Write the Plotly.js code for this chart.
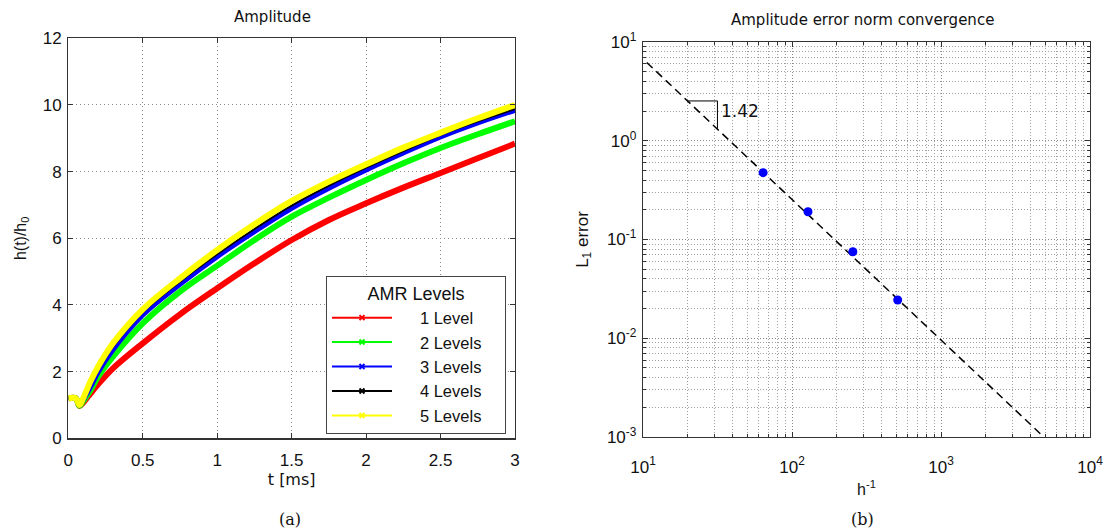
<!DOCTYPE html>
<html><head><meta charset="utf-8">
<script src="https://cdn.plot.ly/plotly-3.0.1.min.js"></script>
<style>html,body{margin:0;padding:0;background:#fff}#chart{width:1107px;height:531px}</style>
</head><body><div id="chart"></div>
<script>
// ---- data: panel (a) amplitude ----
const tMs = [0, 0.05, 0.075, 0.1, 0.15, 0.2, 0.3, 0.5, 0.75, 1, 1.25, 1.5, 1.75, 2, 2.25, 2.5, 2.75, 3];
const level1 = [1.2, 1.2, 0.97, 1.07, 1.35, 1.62, 2.1, 2.85, 3.72, 4.5, 5.25, 5.95, 6.55, 7.05, 7.52, 7.96, 8.4, 8.84];
const level2 = [1.2, 1.2, 0.98, 1.12, 1.45, 1.85, 2.45, 3.45, 4.4, 5.18, 5.95, 6.65, 7.22, 7.75, 8.25, 8.71, 9.12, 9.51];
const level3 = [1.2, 1.2, 0.99, 1.15, 1.55, 1.98, 2.66, 3.7, 4.62, 5.45, 6.2, 6.9, 7.5, 8.05, 8.56, 9.04, 9.46, 9.84];
const level4 = [1.2, 1.2, 0.99, 1.17, 1.6, 2.04, 2.74, 3.78, 4.7, 5.52, 6.28, 6.98, 7.58, 8.12, 8.62, 9.1, 9.51, 9.88];
const level5 = [1.2, 1.2, 1.0, 1.2, 1.72, 2.15, 2.85, 3.87, 4.8, 5.65, 6.42, 7.12, 7.7, 8.22, 8.72, 9.17, 9.6, 10.0];
const seriesNames = ['1 Level', '2 Levels', '3 Levels', '4 Levels', '5 Levels'];
const seriesColors = ['#ff0000', '#00ff00', '#0000ff', '#000000', '#ffff00'];
const seriesWidths = [6, 6, 5, 2, 6];

// ---- data: panel (b) convergence ----
const hInv = [64, 128, 256, 512];
const l1Err = [0.475, 0.191, 0.0752, 0.0244];
const fitH = [10.6, 4900];
const fitErr = [6.2, 0.001];
const triH = [20, 31.6, 31.6];
const triErr = [2.53, 2.53, 1.32];
const slopeLabel = '1.42';

const xTicksA = [0, 0.5, 1, 1.5, 2, 2.5, 3];
const yTicksA = [0, 2, 4, 6, 8, 10, 12];
const xTicksB = [10, 100, 1000, 10000];
const xTickTextB = ['10<sup>1</sup>', '10<sup>2</sup>', '10<sup>3</sup>', '10<sup>4</sup>'];
const yTicksB = [10, 1, 0.1, 0.01, 0.001];
const yTickTextB = ['10<sup>1</sup>', '10<sup>0</sup>', '10<sup>-1</sup>', '10<sup>-2</sup>', '10<sup>-3</sup>'];

const allLevels = [level1, level2, level3, level4, level5];
const traces = [];
allLevels.forEach((ys, i) => {
  traces.push({x: tMs, y: ys, type: 'scatter', mode: 'lines', xaxis: 'x', yaxis: 'y',
    line: {color: seriesColors[i], width: seriesWidths[i], shape: 'spline', smoothing: 1},
    showlegend: false, hoverinfo: 'skip'});
});
const padL = '\u00a0'.repeat(5);
const padR = '\u00a0'.repeat(4);
allLevels.forEach((ys, i) => {
  traces.push({x: [null], y: [null], type: 'scatter', mode: 'lines+markers', xaxis: 'x', yaxis: 'y',
    name: padL + seriesNames[i] + padR,
    line: {color: seriesColors[i], width: 2},
    marker: {symbol: 'x-thin', size: 5, color: seriesColors[i], line: {color: seriesColors[i], width: 2}}});
});
traces.push({x: fitH, y: fitErr, type: 'scatter', mode: 'lines', xaxis: 'x2', yaxis: 'y2',
  line: {color: '#000', width: 1.5, dash: '8px,5px'}, showlegend: false});
traces.push({x: triH, y: triErr, type: 'scatter', mode: 'lines', xaxis: 'x2', yaxis: 'y2',
  line: {color: '#000', width: 1}, showlegend: false});
traces.push({x: hInv, y: l1Err, type: 'scatter', mode: 'markers', xaxis: 'x2', yaxis: 'y2',
  marker: {color: '#0000ff', size: 9}, showlegend: false});

const W = 1107, H = 531;
const axLine = '#333333';
const gridC = '#8a8a8a';
const tickFont = {family: 'Liberation Sans, Arial, sans-serif', size: 17, color: '#111'};
const titleFont = {family: 'DejaVu Sans, sans-serif', size: 15, color: '#111'};

const common = {showline: true, mirror: 'ticks', linecolor: axLine, linewidth: 1.2,
  ticks: 'inside', ticklen: 5, tickcolor: axLine, showgrid: true, gridcolor: gridC,
  griddash: '1px,3px', gridwidth: 1, zeroline: false, tickfont: tickFont, automargin: false};
const minorB = {ticks: 'inside', ticklen: 3, tickcolor: axLine, showgrid: true, gridcolor: '#a0a0a0',
  griddash: '1px,2px', gridwidth: 1, dtick: 'D1'};

const layout = {
  width: W, height: H, margin: {l: 0, r: 0, t: 0, b: 0},
  paper_bgcolor: '#fff', plot_bgcolor: '#fff', showlegend: true,
  xaxis: Object.assign({}, common, {domain: [68.3 / W, 515 / W], range: [0, 3],
    tickvals: xTicksA, ticktext: xTicksA.map(String), anchor: 'y', ticklabelstandoff: 6,
    title: {text: 't [ms]', font: {family: 'DejaVu Sans, sans-serif', size: 16, color: '#111'}, standoff: 4}}),
  yaxis: Object.assign({}, common, {domain: [1 - 438.3 / H, 1 - 38.3 / H], range: [0, 12],
    tickvals: yTicksA, ticktext: yTicksA.map(String), anchor: 'x', ticklabelstandoff: 2,
    title: {text: 'h(t)/h<sub>0</sub>', font: {family: 'Liberation Sans, Arial, sans-serif', size: 16, color: '#111'}, standoff: 12}}),
  xaxis2: Object.assign({}, common, {domain: [643 / W, 1090 / W], type: 'log', range: [1, 4],
    tickvals: xTicksB, ticktext: xTickTextB, anchor: 'y2', ticklabelstandoff: 14,
    griddash: '1px,2px', minor: minorB,
    title: {text: 'h<sup>-1</sup>', font: {family: 'Liberation Sans, Arial, sans-serif', size: 16, color: '#111'}, standoff: 8}}),
  yaxis2: Object.assign({}, common, {domain: [1 - 437 / H, 1 - 42 / H], type: 'log', range: [-3, 1],
    tickvals: yTicksB, ticktext: yTickTextB, anchor: 'x2', ticklabelstandoff: 2,
    griddash: '1px,2px', minor: minorB,
    title: {text: 'L<sub>1</sub> error', font: {family: 'Liberation Sans, Arial, sans-serif', size: 17, color: '#111'}, standoff: 14}}),
  legend: {x: 326 / W, y: 1 - 276 / H, xanchor: 'left', yanchor: 'top',
    bgcolor: '#fff', bordercolor: '#444', borderwidth: 1,
    font: {family: 'Liberation Sans, Arial, sans-serif', size: 16.5, color: '#111'},
    title: {text: 'AMR Levels', side: 'top center', font: {family: 'Liberation Sans, Arial, sans-serif', size: 18, color: '#111'}},
    itemwidth: 60, tracegroupgap: 0},
  annotations: [
    {text: 'Amplitude', xref: 'paper', yref: 'paper', x: 272 / W, y: 1 - 17 / H, showarrow: false,
      font: titleFont, xanchor: 'center', yanchor: 'middle'},
    {text: 'Amplitude error norm convergence', xref: 'paper', yref: 'paper', x: 862 / W, y: 1 - 20 / H, showarrow: false,
      font: titleFont, xanchor: 'center', yanchor: 'middle'},
    {text: slopeLabel, xref: 'x2', yref: 'y2', x: Math.log10(45), y: Math.log10(2.0), showarrow: false,
      font: {family: 'DejaVu Sans, sans-serif', size: 17, color: '#111'}, xanchor: 'center', yanchor: 'middle'},
    {text: '(a)', xref: 'paper', yref: 'paper', x: 290 / W, y: 1 - 519 / H, showarrow: false,
      font: {family: 'DejaVu Serif, Liberation Serif, serif', size: 16, color: '#111'}, xanchor: 'center', yanchor: 'middle'},
    {text: '(b)', xref: 'paper', yref: 'paper', x: 862 / W, y: 1 - 519 / H, showarrow: false,
      font: {family: 'DejaVu Serif, Liberation Serif, serif', size: 16, color: '#111'}, xanchor: 'center', yanchor: 'middle'}
  ]
};

Plotly.newPlot('chart', traces, layout, {displayModeBar: false, staticPlot: true});
</script>
</body></html>
